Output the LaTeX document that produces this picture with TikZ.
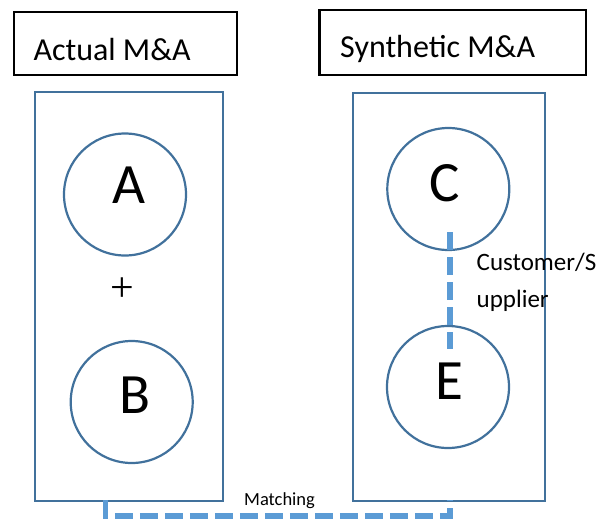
\documentclass[tikz,border=0pt]{standalone}
\usepackage{fontspec}
\setmainfont{Carlito}
\newfontfamily\plusfont{Liberation Serif}
\definecolor{outl}{HTML}{41719C}
\definecolor{dashc}{HTML}{5B9BD5}
\begin{document}
\begin{tikzpicture}[x=1pt,y=-1pt,
  titlebox/.style={draw=black, line width=2.4pt, rectangle, inner sep=0pt, anchor=north west},
  titletext/.style={font=\fontsize{32}{38}\selectfont, inner sep=0pt, anchor=base west},
  panel/.style={draw=outl, line width=2.2pt, rectangle, inner sep=0pt, anchor=north west},
  firm/.style={draw=outl, line width=2.2pt, circle, minimum size=122pt, inner sep=0pt},
  letter/.style={font=\fontsize{57}{60}\selectfont, inner sep=0pt},
  link/.style={draw=dashc, line width=5.8pt, dash pattern=on 18pt off 7pt},
  small/.style={inner sep=0pt, anchor=base west}
]
\useasboundingbox (0,0) rectangle (599,520);
% title boxes
\node[titlebox, minimum width=223.3pt, minimum height=63pt] (t1) at (12.7,11) {};
\node[titletext] (t1txt) at (33.3,60) {Actual M\&A};
\node[titlebox, minimum width=266.7pt, minimum height=65pt] (t2) at (318.3,9) {};
\node[titletext] (t2txt) at (340,57.3) {Synthetic M\&A};
% panels
\node[panel, minimum width=187.5pt, minimum height=409pt] (L) at (34,91) {};
\node[panel, minimum width=192pt, minimum height=408pt] (R) at (351.7,92) {};
% firms
\node[firm, label={[letter, xshift=4pt, yshift=9pt]center:A}] (A) at (125,194.5) {};
\node[firm, label={[letter, xshift=3pt, yshift=7pt]center:B}] (B) at (131.7,402) {};
\node[firm, label={[letter, xshift=-4pt, yshift=6pt]center:C}] (C) at (448.3,189) {};
\node[firm, label={[letter, xshift=1pt, yshift=6pt]center:E}] (E) at (448,387) {};
\node[font=\plusfont\fontsize{42}{42}\selectfont, inner sep=0pt] (plus) at (122,290) {+};
% customer/supplier link
\coordinate (c1) at (449.7,232);
\coordinate (c2) at (449.7,349);
\draw[link] (c1) -- (c2);
\node[small, font=\fontsize{25}{37}\selectfont, align=left] (cs) at (476.5,307) {Customer/S\\upplier};
% matching link
\coordinate (m1) at (105.5,500);
\coordinate (m2) at (105.5,515.7);
\coordinate (m3) at (449.7,515.7);
\coordinate (m4) at (449.7,500);
\draw[link] (m1) -- (m2) -- (m3) -- (m4);
\node[small, font=\fontsize{18.5}{22}\selectfont] (match) at (244,505.7) {Matching};
\end{tikzpicture}
\end{document}
